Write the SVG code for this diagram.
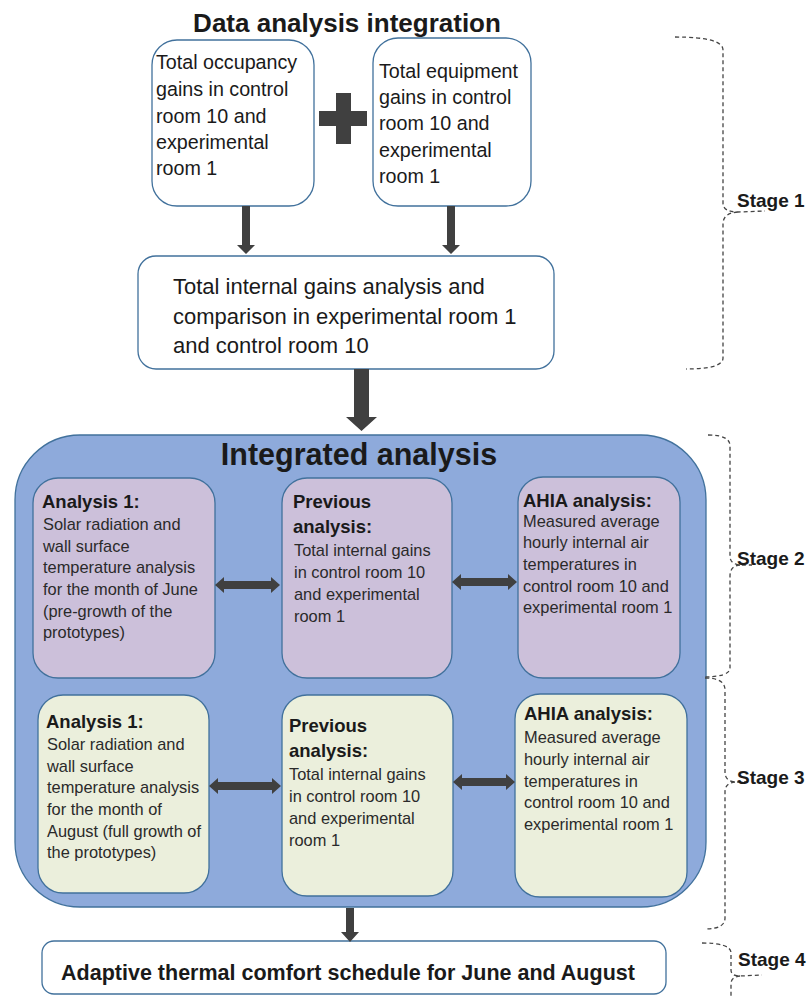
<svg xmlns="http://www.w3.org/2000/svg" width="812" height="996" viewBox="0 0 812 996">
  <style>
    text { font-family: "Liberation Sans", Arial, sans-serif; fill: #1a1a1a; }
    .title { font-weight: bold; }
    .box { fill: #ffffff; stroke: #41719c; stroke-width: 1.3; }
    .purple { fill: #ccc0da; stroke: #41719c; stroke-width: 1.3; }
    .green { fill: #ebefdc; stroke: #41719c; stroke-width: 1.3; }
    .t20 { font-size: 19.7px; }
    .t22 { font-size: 22px; }
    .head { font-size: 18.5px; font-weight: bold; }
    .body { font-size: 16.4px; fill: #2a2a2a; }
    .stage { font-size: 19px; font-weight: bold; }
    .arrow { fill: #404040; }
    .brace { fill: none; stroke: #444444; stroke-width: 1.3; stroke-dasharray: 4 3; }
  </style>

  <rect width="812" height="996" fill="#ffffff"/>

  <text class="title" x="347" y="32" font-size="26" text-anchor="middle">Data analysis integration</text>

  <g id="occupancy">
    <rect class="box" x="152" y="40" width="162" height="166" rx="25"/>
    <text class="t20"><tspan x="156" y="69">Total occupancy</tspan><tspan x="156" y="96">gains in control</tspan><tspan x="156" y="123">room 10 and</tspan><tspan x="156" y="149">experimental</tspan><tspan x="156" y="175">room 1</tspan></text>
  </g>

  <g id="plus">
    <rect class="arrow" x="319" y="111" width="48" height="15"/>
    <rect class="arrow" x="336" y="93" width="15" height="51"/>
  </g>

  <g id="equipment">
    <rect class="box" x="373" y="38" width="158" height="168" rx="25"/>
    <text class="t20"><tspan x="379" y="78">Total equipment</tspan><tspan x="379" y="104">gains in control</tspan><tspan x="379" y="130">room 10 and</tspan><tspan x="379" y="157">experimental</tspan><tspan x="379" y="183">room 1</tspan></text>
  </g>

  <g id="internal-gains">
    <rect class="box" x="138" y="256" width="416" height="113" rx="18"/>
    <text class="t22"><tspan x="173" y="294">Total internal gains analysis and</tspan><tspan x="173" y="324">comparison in experimental room 1</tspan><tspan x="173" y="353">and control room 10</tspan></text>
  </g>

  <g id="integrated">
    <rect x="15" y="435" width="691" height="472" rx="65" fill="#8eaadb" stroke="#41719c" stroke-width="1.3"/>
    <text class="title" x="359" y="465" font-size="30.5" text-anchor="middle">Integrated analysis</text>
  </g>

  <g id="june-analysis1">
    <rect class="purple" x="33" y="478" width="182" height="200" rx="25"/>
    <text class="head" x="42" y="508">Analysis 1:</text>
    <text class="body"><tspan x="43" y="530">Solar radiation and</tspan><tspan x="43" y="552">wall surface</tspan><tspan x="43" y="573">temperature analysis</tspan><tspan x="43" y="595">for the month of June</tspan><tspan x="43" y="617">(pre-growth of the</tspan><tspan x="43" y="638">prototypes)</tspan></text>
  </g>

  <g id="june-previous">
    <rect class="purple" x="282" y="478" width="170" height="200" rx="25"/>
    <text class="head"><tspan x="293" y="508">Previous</tspan><tspan x="293" y="533">analysis:</tspan></text>
    <text class="body"><tspan x="294" y="556">Total internal gains</tspan><tspan x="294" y="578">in control room 10</tspan><tspan x="294" y="600">and experimental</tspan><tspan x="294" y="622">room 1</tspan></text>
  </g>

  <g id="june-ahia">
    <rect class="purple" x="518" y="477" width="162" height="201" rx="25"/>
    <text class="head" x="523" y="507">AHIA analysis:</text>
    <text class="body"><tspan x="523" y="527">Measured average</tspan><tspan x="523" y="548">hourly internal air</tspan><tspan x="523" y="570">temperatures in</tspan><tspan x="523" y="592">control room 10 and</tspan><tspan x="523" y="613">experimental room 1</tspan></text>
  </g>

  <g id="august-analysis1">
    <rect class="green" x="38" y="695" width="171" height="198" rx="25"/>
    <text class="head" x="46" y="728">Analysis 1:</text>
    <text class="body"><tspan x="47" y="750">Solar radiation and</tspan><tspan x="47" y="772">wall surface</tspan><tspan x="47" y="793">temperature analysis</tspan><tspan x="47" y="815">for the month of</tspan><tspan x="47" y="837">August (full growth of</tspan><tspan x="47" y="858">the prototypes)</tspan></text>
  </g>

  <g id="august-previous">
    <rect class="green" x="282" y="695" width="171" height="201" rx="25"/>
    <text class="head"><tspan x="289" y="732">Previous</tspan><tspan x="289" y="757">analysis:</tspan></text>
    <text class="body"><tspan x="289" y="780">Total internal gains</tspan><tspan x="289" y="802">in control room 10</tspan><tspan x="289" y="824">and experimental</tspan><tspan x="289" y="846">room 1</tspan></text>
  </g>

  <g id="august-ahia">
    <rect class="green" x="515" y="694" width="172" height="203" rx="25"/>
    <text class="head" x="524" y="720">AHIA analysis:</text>
    <text class="body"><tspan x="524" y="743">Measured average</tspan><tspan x="524" y="765">hourly internal air</tspan><tspan x="524" y="787">temperatures in</tspan><tspan x="524" y="808">control room 10 and</tspan><tspan x="524" y="830">experimental room 1</tspan></text>
  </g>

  <g id="schedule">
    <rect class="box" x="42" y="941" width="624" height="53" rx="12"/>
    <text class="title" x="348" y="980" font-size="21.5" text-anchor="middle">Adaptive thermal comfort schedule for June and August</text>
  </g>

  <g id="connectors">
    <!-- occupancy / equipment down to internal gains -->
    <polygon class="arrow" points="242,206 250,206 250,245 255,245 246,254 237,245 242,245"/>
    <polygon class="arrow" points="447,206 455,206 455,245 460,245 451,254 442,245 447,245"/>
    <!-- internal gains down to integrated analysis -->
    <polygon class="arrow" points="354,369 369,369 369,417 377,417 361.5,431 346,417 354,417"/>
    <!-- June row links -->
    <polygon class="arrow" points="215,585 224,577 224,581 271,581 271,577 280,585 271,593 271,589 224,589 224,593"/>
    <polygon class="arrow" points="452,582 461,574 461,578 508,578 508,574 517,582 508,590 508,586 461,586 461,590"/>
    <!-- August row links -->
    <polygon class="arrow" points="209,786 218,778 218,782 272,782 272,778 281,786 272,794 272,790 218,790 218,794"/>
    <polygon class="arrow" points="453,782 462,774 462,778 506,778 506,774 515,782 506,790 506,786 462,786 462,790"/>
    <!-- integrated analysis down to schedule -->
    <polygon class="arrow" points="346,908 354,908 354,932 359,932 350,942 341,932 346,932"/>
  </g>

  <g id="stages">
    <path class="brace" d="M675,37 Q723,37 723,50 L723,203 Q723,212 738,212 L765,211 M738,212 Q723,213 723,224 L723,358 Q723,369 686,369"/>
    <text class="stage" x="737" y="207">Stage 1</text>

    <path class="brace" d="M708,435 Q730,435 730,446 L730,556 Q730,564 740,565 L752,565 M740,565 Q730,566 730,576 L730,668 Q730,677 702,677"/>
    <text class="stage" x="737" y="565">Stage 2</text>

    <path class="brace" d="M705,678 Q725,678 725,690 L725,772 Q725,781 735,782 L748,782 M735,782 Q725,783 725,792 L725,918 Q725,929 705,929"/>
    <text class="stage" x="737" y="784">Stage 3</text>

    <path class="brace" d="M702,943 Q731,943 731,953 L731,970 Q731,976 740,976 L762,975 M740,976 Q731,977 731,984 L731,996"/>
    <text class="stage" x="738" y="966">Stage 4</text>
  </g>
</svg>
